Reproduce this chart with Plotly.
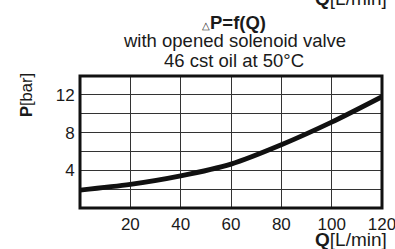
import plotly.graph_objects as go

# Data
flow_q = [0, 20, 40, 60, 80, 100, 120]            # Q [L/min]
pressure_p = [1.9, 2.5, 3.4, 4.65, 6.7, 9.1, 11.8]  # P [bar]

x_tick_vals = [0, 20, 40, 60, 80, 100, 120]
x_tick_text = ["", "20", "40", "60", "80", "100", "120"]
y_tick_vals = [0, 2, 4, 6, 8, 10, 12]
y_tick_text = ["", "", "4", "", "8", "", "12"]

W, H = 395, 249
L, R, T, B = 80, 13, 76, 41
plot_h = H - T - B
plot_w = W - L - R


def py(p):
    return (H - B - p) / plot_h


def px(p):
    return (p - L) / plot_w


FONT = "Liberation Sans, Arial, Helvetica, sans-serif"
TXT = "#1a1a1a"

fig = go.Figure()
fig.add_trace(go.Scatter(
    x=flow_q, y=pressure_p, mode="lines",
    line=dict(color="#111111", width=4.8, shape="spline", smoothing=0.8),
    hoverinfo="skip", showlegend=False,
))

axis_common = dict(
    showgrid=True, gridcolor="#333333", gridwidth=1,
    zeroline=False, showline=False,
    ticks="outside", ticklen=1, tickcolor="rgba(0,0,0,0)",
    tickfont=dict(family=FONT, size=17, color=TXT),
    automargin=False,
)

fig.update_xaxes(range=[0, 120], tickvals=x_tick_vals, ticktext=x_tick_text,
                 ticklabeloverflow="allow", **axis_common)
fig.update_yaxes(range=[0, 14], tickvals=y_tick_vals, ticktext=y_tick_text, **axis_common)

fig.add_shape(type="rect", xref="paper", yref="paper", x0=0, x1=1, y0=0, y1=1,
              line=dict(color="#111111", width=3), layer="above")

title_lines = [
    ("<span style='font-size:10px'>△</span><b>P=f(Q)</b>", 22.5),
    ("with opened solenoid valve", 40.5),
    ("46 cst oil at 50°C", 60),
]
for txt, ypix in title_lines:
    fig.add_annotation(text=txt, xref="paper", yref="paper", x=px(234), y=py(ypix),
                       xanchor="center", yanchor="middle", showarrow=False,
                       font=dict(family=FONT, size=18.5, color=TXT))

fig.add_annotation(text="<b>Q</b>[L/min]", xref="paper", yref="paper", x=px(389), y=py(239.5),
                   xanchor="right", yanchor="middle", showarrow=False,
                   font=dict(family=FONT, size=19, color=TXT))
fig.add_annotation(text="<b>Q</b>[L/min]", xref="paper", yref="paper", x=px(389), y=py(-2),
                   xanchor="right", yanchor="middle", showarrow=False,
                   font=dict(family=FONT, size=19, color=TXT))
fig.add_annotation(text="<b>P</b>[bar]", xref="paper", yref="paper", x=px(26), y=py(95),
                   xanchor="center", yanchor="middle", textangle=-90, showarrow=False,
                   font=dict(family=FONT, size=16.5, color=TXT))

fig.update_layout(
    width=W, height=H,
    margin=dict(l=L, r=R, t=T, b=B, autoexpand=False),
    paper_bgcolor="white", plot_bgcolor="white",
    showlegend=False,
)

fig.write_html(
    "out.html",
    config={"displayModeBar": False, "staticPlot": True},
    post_script=(
        "document.body.style.margin='0';document.body.style.padding='0';"
        "document.body.style.overflow='hidden';"
        "document.documentElement.style.overflow='hidden';"
    ),
)
